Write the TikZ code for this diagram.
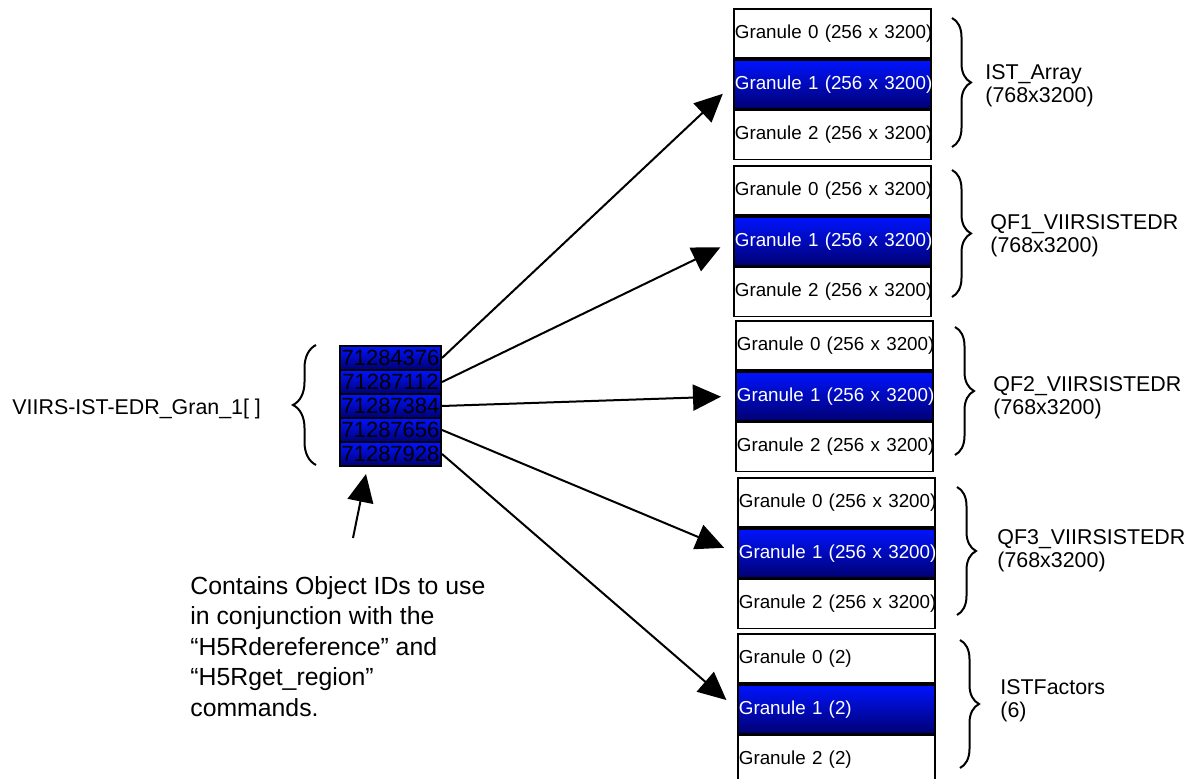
\documentclass[tikz,border=0pt]{standalone}
\usepackage{fontspec}
\setmainfont{Liberation Sans}
\usetikzlibrary{arrows.meta, calc, positioning, decorations.pathreplacing}

\definecolor{granTop}{RGB}{0,20,255}
\definecolor{granBot}{RGB}{0,0,115}

\tikzset{
  gran/.style={draw, line width=0.9pt, minimum height=24.5pt, text width=97.5pt, inner xsep=0.5pt, inner ysep=0pt, align=left, anchor=north west, font=\fontsize{9.4}{11}\selectfont},
  granhi/.style={gran, top color=granTop, bottom color=granBot, text=white},
  idcell/.style={draw, line width=1pt, minimum width=50.5pt, minimum height=12pt, inner sep=0pt, anchor=north west, top color=granTop, bottom color=granBot, font=\fontsize{11}{11}\selectfont},
  ptr/.style={-{Triangle[length=14pt,width=13pt]}, line width=1pt, shorten >=7pt},
  grpbrace/.style={decorate, decoration={brace, amplitude=9.5pt}, line width=1pt},
  grplabel/.style={anchor=west, align=left, inner sep=0pt, font=\fontsize{10.7}{11.5}\selectfont}
}

\begin{document}
\begin{tikzpicture}[x=0.5pt, y=-0.5pt]
\useasboundingbox (0,0) rectangle (1201,779);

% Granule stacks, one per dataset
\foreach \g/\x/\y/\sz in {1/733/8/256 x 3200, 2/733/165/256 x 3200, 3/735/320/256 x 3200, 4/737/477/256 x 3200, 5/737/633/2} {
    \node[gran] (g\g-0) at (\x,\y) {\mbox{Granule 0 (\sz)}};
    \node[granhi] (g\g-1) at (g\g-0.south west) {\mbox{Granule 1 (\sz)}};
    \node[gran] (g\g-2) at (g\g-1.south west) {\mbox{Granule 2 (\sz)}};
}

% Dataset braces and names
\foreach \g/\bx/\bt/\bb/\lx/\ly/\lab in {1/952/18/147/985/86/IST\_Array\\(768x3200),
    2/952/170/297/990/236/QF1\_VIIRSISTEDR\\(768x3200),
    3/955/327/455/993/398/QF2\_VIIRSISTEDR\\(768x3200),
    4/957/487/615/997/551/QF3\_VIIRSISTEDR\\(768x3200),
    5/960/640/768/1000/701/ISTFactors\\(6)} {
    \draw[grpbrace] (\bx,\bt) -- (\bx,\bb);
    \node[grplabel] (lab\g) at (\lx,\ly) {\lab};
}

% Object ID array
\foreach \id [count=\i] in {71284376,71287112,71287384,71287656,71287928}
    \node[idcell] (id\i) at (339,{345+24*(\i-1)}) {\id};
\draw[grpbrace, decoration={brace, amplitude=11.5pt}] (316,465) -- (316,345);
\node[anchor=base west, inner sep=0pt, font=\fontsize{10.7}{12}\selectfont] (arrname) at (12,415) {VIIRS-IST-EDR\_Gran\_1[ ]};

% References into the granules
\foreach \i in {1,...,5}
    \draw[ptr] (id\i.east) -- (g\i-1.west);

% Note
\node[anchor=north west, align=left, inner sep=0pt, font=\fontsize{12.4}{15.25}\selectfont] (note) at (190,576)
    {Contains Object IDs to use\\in conjunction with the\\“H5Rdereference” and\\“H5Rget\_region”\\commands.};
\coordinate (notetail) at (353,538);
\coordinate (notetip) at (366,474);
\draw[ptr, shorten >=0pt] (notetail) -- (notetip);
\end{tikzpicture}
\end{document}
